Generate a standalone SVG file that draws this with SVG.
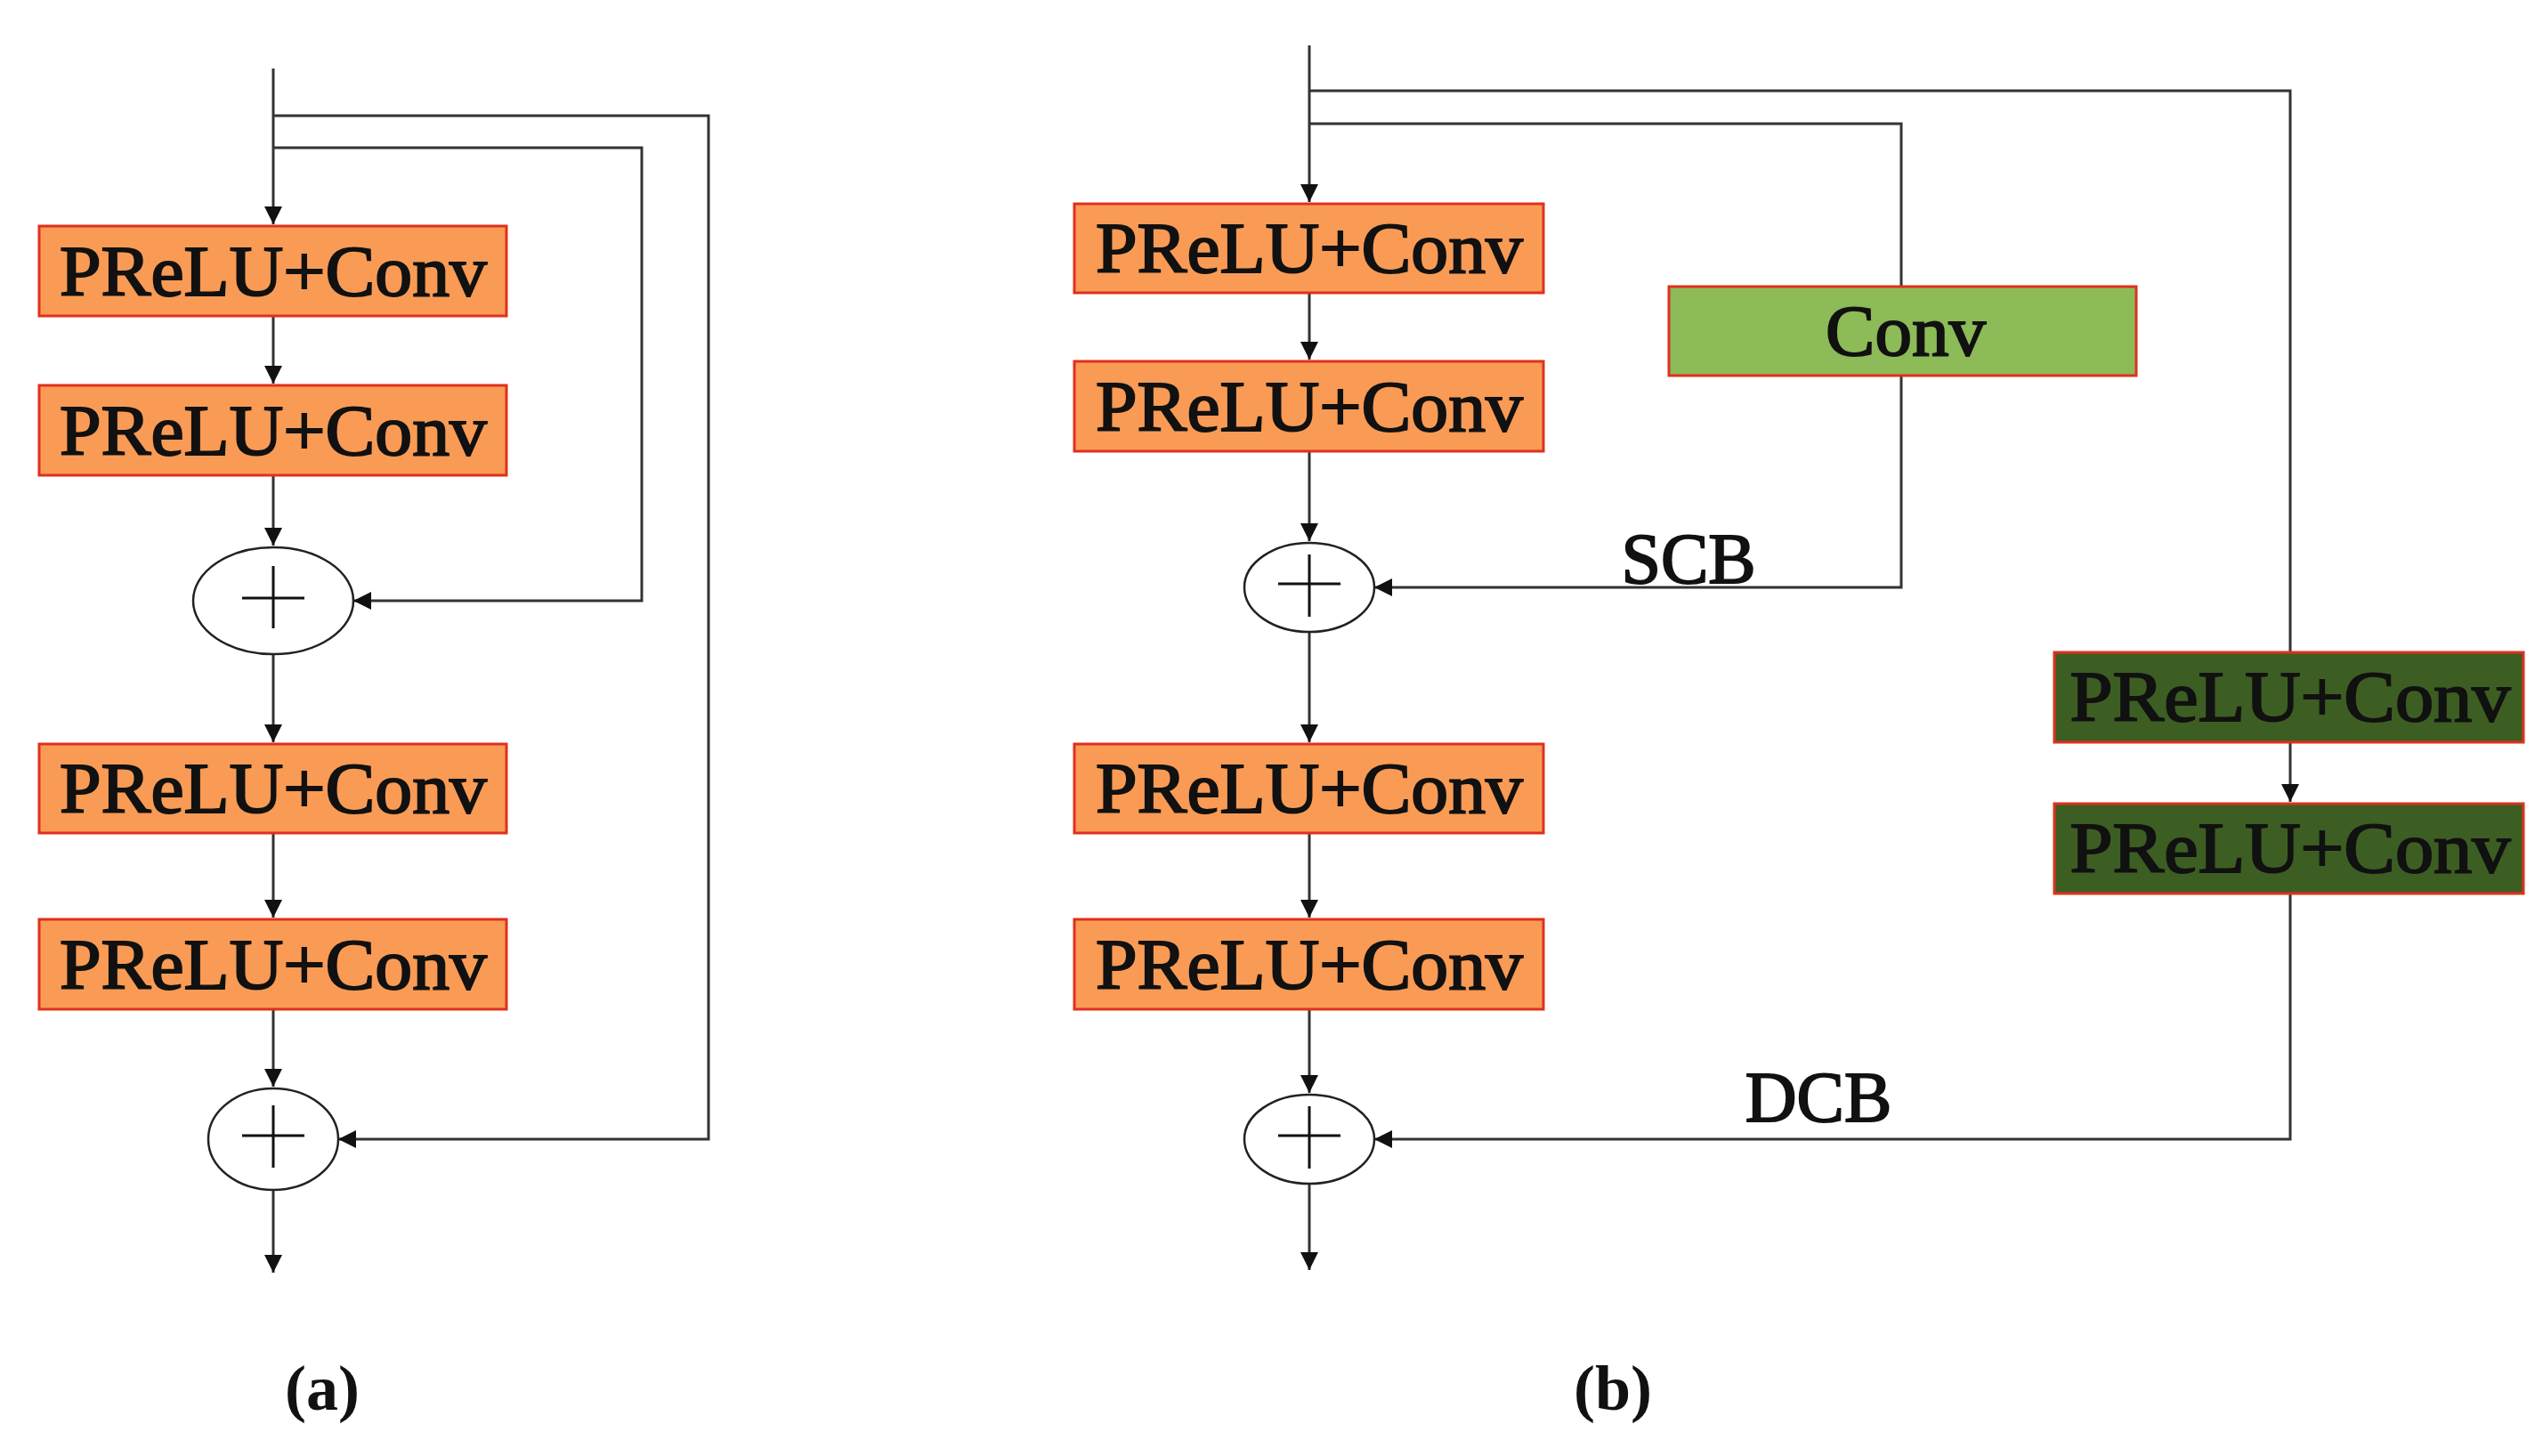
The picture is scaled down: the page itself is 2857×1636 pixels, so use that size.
<svg xmlns="http://www.w3.org/2000/svg" width="2857" height="1636" viewBox="0 0 2857 1636">
<style>
.box{stroke:#E0301E;stroke-width:3}
.or{fill:#F99B55}
.lg{fill:#8CBB57}
.dg{fill:#3D5E22}
.t{font-family:"Liberation Serif",serif;font-size:80px;fill:#111;stroke:#111;stroke-width:2;text-anchor:middle}
.cap{font-family:"Liberation Serif",serif;font-size:72px;font-weight:bold;fill:#111;text-anchor:middle}
.ln{fill:none;stroke:#333;stroke-width:3}
.sum{fill:#fff;stroke:#222;stroke-width:2.5}
.pl{stroke:#111;stroke-width:3}
</style>
<defs>
<marker id="ah2" viewBox="0 0 10 10" refX="10" refY="5" markerWidth="20" markerHeight="20" markerUnits="userSpaceOnUse" orient="auto"><path d="M0,0 L10,5 L0,10 z" fill="#111"/></marker>
</defs>
<g id="connectors">
<path class="ln" d="M307,77 V252" marker-end="url(#ah2)"/>
<path class="ln" d="M307,130 H796 V1280 H380" marker-end="url(#ah2)"/>
<path class="ln" d="M307,166 H721 V675 H397" marker-end="url(#ah2)"/>
<path class="ln" d="M307,355 V431" marker-end="url(#ah2)"/>
<path class="ln" d="M307,534 V613" marker-end="url(#ah2)"/>
<path class="ln" d="M307,735 V834" marker-end="url(#ah2)"/>
<path class="ln" d="M307,936 V1031" marker-end="url(#ah2)"/>
<path class="ln" d="M307,1134 V1221" marker-end="url(#ah2)"/>
<path class="ln" d="M307,1337 V1430" marker-end="url(#ah2)"/>
<path class="ln" d="M1471,51 V227" marker-end="url(#ah2)"/>
<path class="ln" d="M1471,102 H2573 V733"/>
<path class="ln" d="M1471,139 H2136 V322"/>
<path class="ln" d="M2136,422 V660 H1544" marker-end="url(#ah2)"/>
<path class="ln" d="M1471,329 V404" marker-end="url(#ah2)"/>
<path class="ln" d="M1471,507 V608" marker-end="url(#ah2)"/>
<path class="ln" d="M1471,710 V834" marker-end="url(#ah2)"/>
<path class="ln" d="M1471,936 V1031" marker-end="url(#ah2)"/>
<path class="ln" d="M1471,1134 V1228" marker-end="url(#ah2)"/>
<path class="ln" d="M1471,1330 V1427" marker-end="url(#ah2)"/>
<path class="ln" d="M2573,834 V901" marker-end="url(#ah2)"/>
<path class="ln" d="M2573,1004 V1280 H1544" marker-end="url(#ah2)"/>
</g>
<g id="a1"><rect class="box or" x="44" y="254" width="525" height="101"/><text class="t" x="307" y="332" textLength="480" lengthAdjust="spacingAndGlyphs">PReLU+Conv</text></g>
<g id="a2"><rect class="box or" x="44" y="433" width="525" height="101"/><text class="t" x="307" y="511" textLength="480" lengthAdjust="spacingAndGlyphs">PReLU+Conv</text></g>
<g id="asum1"><ellipse class="sum" cx="307" cy="675" rx="90" ry="60"/><path class="pl" d="M272,672 H342 M307,636 V706"/></g>
<g id="a3"><rect class="box or" x="44" y="836" width="525" height="100"/><text class="t" x="307" y="913" textLength="480" lengthAdjust="spacingAndGlyphs">PReLU+Conv</text></g>
<g id="a4"><rect class="box or" x="44" y="1033" width="525" height="101"/><text class="t" x="307" y="1111" textLength="480" lengthAdjust="spacingAndGlyphs">PReLU+Conv</text></g>
<g id="asum2"><ellipse class="sum" cx="307" cy="1280" rx="73" ry="57"/><path class="pl" d="M272,1276 H342 M307,1242 V1312"/></g>
<text class="cap" x="362" y="1584">(a)</text>
<g id="b1"><rect class="box or" x="1207" y="229" width="527" height="100"/><text class="t" x="1471" y="306" textLength="480" lengthAdjust="spacingAndGlyphs">PReLU+Conv</text></g>
<g id="b2"><rect class="box or" x="1207" y="406" width="527" height="101"/><text class="t" x="1471" y="484" textLength="480" lengthAdjust="spacingAndGlyphs">PReLU+Conv</text></g>
<g id="bsum1"><ellipse class="sum" cx="1471" cy="660" rx="73" ry="50"/><path class="pl" d="M1436,656 H1506 M1471,623 V693"/></g>
<g id="b3"><rect class="box or" x="1207" y="836" width="527" height="100"/><text class="t" x="1471" y="913" textLength="480" lengthAdjust="spacingAndGlyphs">PReLU+Conv</text></g>
<g id="b4"><rect class="box or" x="1207" y="1033" width="527" height="101"/><text class="t" x="1471" y="1111" textLength="480" lengthAdjust="spacingAndGlyphs">PReLU+Conv</text></g>
<g id="bsum2"><ellipse class="sum" cx="1471" cy="1280" rx="73" ry="50"/><path class="pl" d="M1436,1276 H1506 M1471,1243 V1313"/></g>
<g id="conv"><rect class="box lg" x="1875" y="322" width="525" height="100"/><text class="t" x="2141" y="399" textLength="180" lengthAdjust="spacingAndGlyphs">Conv</text></g>
<g id="g1"><rect class="box dg" x="2308" y="733" width="527" height="101"/><text class="t" x="2573" y="810" textLength="495" lengthAdjust="spacingAndGlyphs">PReLU+Conv</text></g>
<g id="g2"><rect class="box dg" x="2308" y="903" width="527" height="101"/><text class="t" x="2573" y="980" textLength="495" lengthAdjust="spacingAndGlyphs">PReLU+Conv</text></g>
<text class="t" x="1897" y="655" font-size="66" stroke-width="1.5">SCB</text>
<text class="t" x="2043" y="1260" font-size="66" stroke-width="1.5">DCB</text>
<text class="cap" x="1812" y="1584">(b)</text>
</svg>
